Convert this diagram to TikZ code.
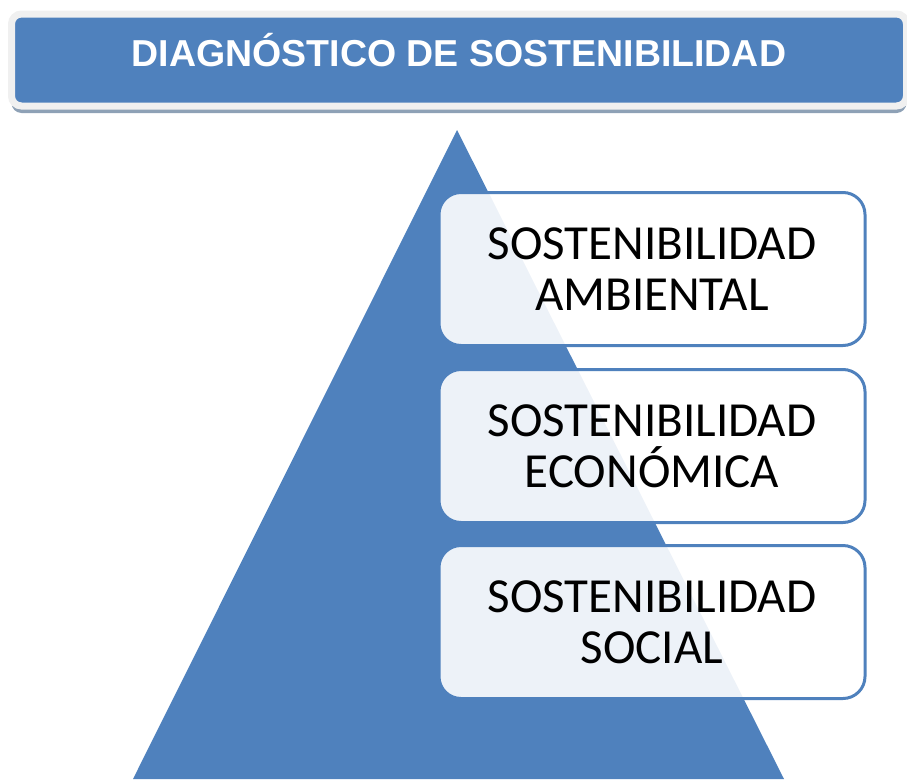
\documentclass[tikz,border=0pt]{standalone}
\usepackage{fontspec}
\setmainfont{Carlito}
\newfontfamily\titlefont{Liberation Sans}
\usetikzlibrary{shadows}
\definecolor{azul}{HTML}{4F81BD}
\definecolor{bisel}{HTML}{F0F0F0}
\definecolor{sombra}{HTML}{8EA1B6}

\begin{document}
\begin{tikzpicture}[x=1pt, y=-1pt,
  titulo/.style={rounded corners=10pt, fill=azul, draw=bisel, line width=7pt,
    minimum width=895pt, minimum height=92pt, text height=27pt, text depth=15pt,
    drop shadow={shadow xshift=0pt, shadow yshift=-7pt, fill=sombra, opacity=1},
    text=white, font=\titlefont\bfseries\fontsize{37.5}{40}\selectfont},
  caja/.style={rounded corners=22pt, draw=azul, line width=3pt,
    fill=white, fill opacity=0.9, text opacity=1,
    minimum width=426pt, minimum height=153pt, align=center,
    font=\fontsize{49}{51}\selectfont}]
\useasboundingbox (0,0) rectangle (907,779);
% piramide
\fill[azul] (457,130) -- (784,779) -- (133,779) -- cycle;
% encabezado
\node[titulo] (diag) at (459,60) {DIAGNÓSTICO DE SOSTENIBILIDAD};
% niveles
\node[caja] (amb) at (652,269) {SOSTENIBILIDAD\\AMBIENTAL};
\node[caja] (eco) at (652,446) {SOSTENIBILIDAD\\ECONÓMICA};
\node[caja] (soc) at (652,622) {SOSTENIBILIDAD\\SOCIAL};
\end{tikzpicture}
\end{document}
